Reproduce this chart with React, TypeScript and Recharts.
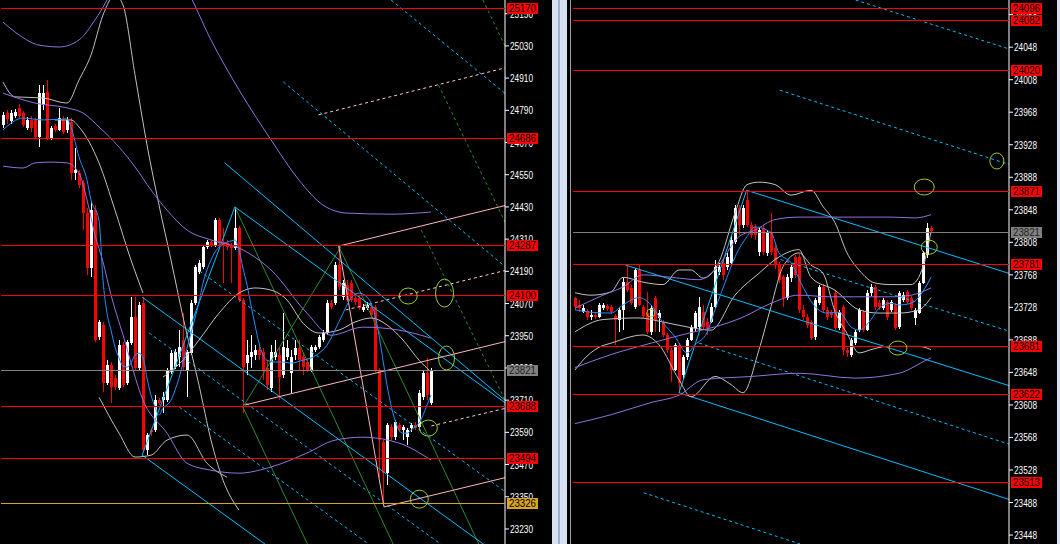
import React from "react";
import { ComposedChart, Bar, Line, XAxis, YAxis, ReferenceLine, ReferenceDot } from "recharts";

type Pt = [number, number];
type Seg = [number, number, number, number];

// ---------- left panel (bars) ----------
const leftOpen = [
  24735, 24780, 24750, 24769, 24799, 24780, 24724, 24754, 24754, 24690,
  24810, 24858, 24687, 24731, 24717, 24754, 24717, 24746, 24556, 24556,
  24519, 24407, 24202, 24418, 23945, 23990, 23774, 23841, 23792, 23755,
  23915, 23774, 23923, 24019, 23829, 24072, 23524, 23598, 23598, 23710,
  23710, 23710, 23815, 23833, 23870, 23934, 23822, 23885, 24072, 24187,
  24206, 24280, 24299, 24288, 24381, 24299, 24295, 24288, 24277, 24351,
  24083, 23848, 23870, 23878, 23897, 23889, 23829, 23755, 23870, 23878,
  23803, 23870, 23811, 23878, 23904, 23870, 23852, 23822, 23897, 23908,
  23934, 23960, 24072, 24072, 24213, 24094, 24139, 24146, 24090, 24090,
  24046, 24053, 24057, 24057, 23822, 23554, 23438, 23610, 23572, 23617,
  23598, 23572, 23606, 23617, 23610, 23721, 23811, 23699,
];
const leftHigh = [
  24784, 24791, 24791, 24795, 24814, 24788, 24765, 24769, 24761, 24884,
  24884, 24903, 24731, 24739, 24799, 24769, 24765, 24761, 24649, 24567,
  24530, 24426, 24448, 24437, 24008, 24001, 23859, 23852, 23803, 23934,
  23926, 23934, 24094, 24094, 24075, 24094, 23587, 23606, 23729, 23718,
  23740, 23829, 23897, 23900, 23971, 24034, 23897, 24083, 24213, 24232,
  24288, 24306, 24306, 24388, 24388, 24351, 24306, 24295, 24429, 24359,
  24090, 23934, 23952, 23915, 23915, 23904, 23859, 23915, 23934, 23904,
  24034, 23934, 23897, 23934, 23934, 23889, 23867, 23915, 23915, 23952,
  23971, 24083, 24083, 24224, 24284, 24157, 24157, 24157, 24101, 24098,
  24068, 24075, 24068, 24064, 23829, 23561, 23624, 23621, 23636, 23624,
  23617, 23606, 23624, 23628, 23747, 23822, 23867, 23829,
];
const leftLow = [
  24724, 24739, 24739, 24761, 24761, 24728, 24717, 24709, 24683, 24653,
  24791, 24679, 24679, 24709, 24713, 24702, 24705, 24530, 24530, 24500,
  24344, 24176, 24169, 23926, 23934, 23740, 23766, 23699, 23747, 23747,
  23759, 23766, 23915, 23822, 23822, 23516, 23505, 23576, 23591, 23692,
  23662, 23703, 23807, 23826, 23833, 23822, 23721, 23878, 24064, 24180,
  24198, 24273, 24280, 24280, 24288, 24146, 24269, 24146, 24269, 24075,
  23662, 23803, 23829, 23859, 23859, 23785, 23747, 23740, 23859, 23710,
  23792, 23859, 23736, 23859, 23822, 23803, 23815, 23815, 23889, 23900,
  23926, 23952, 24049, 24064, 24120, 24083, 24075, 24075, 24064, 24046,
  24038, 24046, 24016, 23815, 23419, 23326, 23393, 23561, 23561, 23591,
  23561, 23543, 23591, 23598, 23598, 23710, 23710, 23692,
];
const leftClose = [
  24773, 24758, 24780, 24784, 24769, 24735, 24754, 24724, 24690, 24855,
  24855, 24687, 24724, 24717, 24761, 24709, 24754, 24556, 24567, 24511,
  24407, 24202, 24418, 23934, 24001, 23774, 23841, 23759, 23759, 23915,
  23766, 23926, 24019, 23829, 24064, 23524, 23580, 23591, 23710, 23699,
  23721, 23822, 23885, 23889, 23908, 23833, 23889, 24072, 24206, 24221,
  24280, 24299, 24288, 24381, 24295, 24288, 24280, 24277, 24351, 24083,
  23833, 23878, 23889, 23897, 23878, 23822, 23766, 23889, 23889, 23796,
  23908, 23904, 23870, 23904, 23859, 23833, 23822, 23908, 23908, 23945,
  23960, 24072, 24057, 24213, 24131, 24146, 24083, 24083, 24075, 24053,
  24057, 24064, 24027, 23822, 23561, 23438, 23617, 23572, 23628, 23598,
  23610, 23598, 23617, 23606, 23736, 23811, 23729, 23822,
];

const leftTicks = [25150, 25030, 24910, 24790, 24670, 24550, 24430, 24310, 24190, 24070, 23950, 23830, 23710, 23590, 23470, 23350, 23230];
const leftRedLevels = [25170, 24686, 24287, 24100, 23688, 23494];
const leftLast = 23821;
const leftGold = 23326;

const leftMa: Pt[] = [
  [0, 24717], [5, 24761], [10, 24754], [16, 24758], [17, 24728], [19, 24616], [21, 24530], [22, 24456],
  [24, 24381], [25, 24157], [26, 24034], [27, 23971], [28, 23908], [29, 23867], [30, 23837], [31, 23833],
  [32, 23848], [33, 23878], [34, 23885], [35, 23870], [36, 23792], [37, 23729], [38, 23684], [39, 23654],
  [40, 23680], [41, 23692], [42, 23710], [43, 23747], [44, 23792], [45, 23848], [46, 23904], [47, 23960],
  [48, 24016], [49, 24075], [50, 24146], [51, 24195], [52, 24232], [53, 24262], [54, 24280], [55, 24292],
  [56, 24299], [57, 24303], [58, 24307], [59, 24269], [60, 24202], [61, 24139], [62, 24064], [63, 23990],
  [64, 23923], [65, 23878], [66, 23859], [68, 23852], [70, 23852], [72, 23848], [75, 23859], [77, 23867],
  [79, 23885], [81, 23915], [83, 23971], [85, 24034], [87, 24090], [89, 24109], [91, 24094], [92, 24072],
  [93, 24027], [94, 23952], [95, 23859], [96, 23766], [97, 23692], [98, 23636], [99, 23598], [100, 23587],
  [101, 23587], [102, 23598], [103, 23610], [104, 23624], [105, 23654], [106, 23692], [107, 23729],
];
const leftPurpleMid: Pt[] = [
  [0, 24854], [8, 24817], [16, 24799], [20, 24780], [24, 24728], [29, 24653], [33, 24579], [37, 24493],
  [41, 24418], [46, 24344], [52, 24307], [59, 24277], [67, 24195], [76, 24034], [82, 23952], [90, 23982],
  [99, 23971], [107, 23941],
];
const leftPurpleLow: Pt[] = [
  [0, 24582], [5, 24575], [8, 24594], [12, 24597], [16, 24594], [19, 24556], [21, 24456], [23, 24325],
  [25, 24225], [27, 24102], [30, 23953], [35, 23710], [41, 23587], [46, 23475], [52, 23449], [59, 23438],
  [67, 23461], [76, 23513], [83, 23561], [90, 23572], [99, 23550], [107, 23487],
];
const leftPurpleHigh: Pt[] = [
  [0, 25119], [4, 25071], [9, 25033], [14, 25026], [19, 25052], [23, 25127], [26, 25201], [32, 25425],
  [46, 25238], [52, 25052], [59, 24866], [67, 24680], [74, 24530], [80, 24437], [86, 24407], [97, 24403],
  [107, 24411],
];
const leftGreyArc: Pt[] = [
  [0, 24895], [3, 24840], [10, 24836], [16, 24817], [19, 24903], [22, 24996], [25, 25145], [28, 25220],
  [30, 25182], [33, 24922], [36, 24661], [39, 24437], [42, 24232], [45, 24020], [49, 23766], [52, 23561],
  [55, 23412], [59, 23300],
];
const leftGreyFall: Pt[] = [
  [13, 24754], [17, 24754], [19, 24728], [24, 24594], [28, 24418], [32, 24232], [35, 24109],
];
const leftGreyMid: Pt[] = [
  [40, 23796], [45, 23859], [49, 23934], [54, 24034], [59, 24109], [63, 24128], [67, 24120], [71, 24083],
  [75, 23997], [79, 23960], [84, 23971], [88, 24001], [92, 24016], [96, 23990], [100, 23934], [104, 23859],
  [107, 23815],
];
const leftGreyLow: Pt[] = [
  [24, 23721], [29, 23587], [33, 23498], [37, 23505], [41, 23561], [46, 23580], [51, 23475], [56, 23423],
];

// drawn objects: [barFrom, priceFrom, barTo, priceTo]
const leftCyanSolid: Seg[] = [
  [55.5, 24594, 125.5, 23703], [58, 24430, 125.5, 23695], [35, 24094, 125.5, 23110],
  [35, 23505, 125.5, 22521], [35, 23505, 58, 24430],
];
const leftCyanDash: Seg[] = [
  [49.25, 24191, 125.5, 23364], [36.75, 23960, 125.5, 22995], [44.25, 23684, 125.5, 22801],
  [70, 24896, 125.5, 24202], [96.75, 25201, 125.5, 24847],
];
const leftGreenSolid: Seg[] = [
  [58, 24430, 97.25, 23174], [60, 23684, 84.25, 24281], [60, 23684, 76, 23174], [83.75, 24284, 118.5, 23174],
];
const leftGreenDash: Seg[] = [
  [108.5, 24884, 125.5, 24359], [104.25, 24344, 125.5, 23695], [119.5, 25201, 125.5, 25015],
];
const leftPinkSolid: Seg[] = [
  [60.5, 23692, 125.5, 23930], [83.75, 24284, 125.5, 24437], [95, 23312, 125.5, 23423], [83.75, 24284, 95, 23312],
];
const leftPinkDash: Seg[] = [
  [85.5, 24046, 125.5, 24195], [106.75, 23614, 125.5, 23681], [78.75, 24773, 125, 24948],
];
const leftRings: [number, number, number, number][] = [
  [101, 24098, 9, 8], [110, 24109, 9, 14], [110.5, 23867, 8, 12], [106, 23606, 9, 8], [103.75, 23341, 9, 9],
];

// ---------- right panel ----------
const rightOpen = [
  23740, 23731, 23722, 23724, 23716, 23719, 23716, 23727, 23730, 23729,
  23717, 23713, 23725, 23759, 23752, 23729, 23774, 23729, 23721, 23698,
  23740, 23715, 23709, 23694, 23676, 23651, 23682, 23645, 23667, 23688,
  23703, 23704, 23722, 23710, 23710, 23729, 23772, 23783, 23778, 23783,
  23808, 23850, 23829, 23860, 23829, 23827, 23796, 23826, 23795, 23821,
  23801, 23780, 23765, 23740, 23764, 23790, 23790, 23725, 23716, 23710,
  23692, 23733, 23753, 23725, 23722, 23746, 23703, 23729, 23676, 23670,
  23684, 23700, 23722, 23700, 23746, 23753, 23733, 23727, 23735, 23725,
  23731, 23704, 23737, 23747, 23740, 23715, 23721, 23758, 23792, 23826,
];
const rightHigh = [
  23741, 23737, 23731, 23726, 23725, 23721, 23733, 23733, 23732, 23731,
  23720, 23727, 23764, 23780, 23756, 23776, 23780, 23731, 23747, 23731,
  23742, 23725, 23713, 23697, 23678, 23684, 23684, 23670, 23690, 23706,
  23724, 23741, 23731, 23715, 23733, 23786, 23783, 23786, 23795, 23817,
  23854, 23854, 23854, 23872, 23833, 23831, 23826, 23829, 23823, 23844,
  23805, 23784, 23768, 23769, 23781, 23792, 23794, 23731, 23720, 23713,
  23740, 23756, 23757, 23729, 23725, 23749, 23725, 23731, 23678, 23690,
  23700, 23727, 23725, 23749, 23757, 23756, 23737, 23740, 23737, 23737,
  23733, 23748, 23747, 23749, 23742, 23727, 23760, 23797, 23832, 23828,
];
const rightLow = [
  23725, 23722, 23721, 23713, 23713, 23714, 23714, 23725, 23724, 23720,
  23682, 23697, 23700, 23747, 23731, 23725, 23729, 23715, 23695, 23694,
  23698, 23698, 23692, 23673, 23636, 23649, 23623, 23641, 23663, 23686,
  23700, 23701, 23700, 23694, 23708, 23726, 23768, 23762, 23774, 23780,
  23806, 23817, 23826, 23826, 23813, 23811, 23792, 23792, 23791, 23792,
  23776, 23758, 23729, 23737, 23759, 23764, 23721, 23713, 23703, 23688,
  23688, 23731, 23721, 23713, 23715, 23700, 23700, 23670, 23667, 23667,
  23682, 23698, 23698, 23698, 23742, 23725, 23725, 23725, 23713, 23722,
  23700, 23701, 23735, 23732, 23725, 23706, 23719, 23756, 23789, 23821,
];
const rightClose = [
  23729, 23727, 23727, 23716, 23719, 23716, 23731, 23731, 23726, 23722,
  23713, 23725, 23759, 23749, 23733, 23774, 23731, 23717, 23698, 23727,
  23713, 23721, 23694, 23676, 23651, 23682, 23635, 23667, 23688, 23704,
  23721, 23729, 23704, 23703, 23729, 23778, 23778, 23768, 23790, 23811,
  23850, 23829, 23850, 23829, 23817, 23817, 23823, 23796, 23820, 23796,
  23780, 23762, 23740, 23765, 23778, 23768, 23725, 23716, 23706, 23690,
  23737, 23753, 23725, 23716, 23719, 23703, 23722, 23676, 23672, 23688,
  23698, 23725, 23700, 23746, 23753, 23729, 23729, 23737, 23716, 23735,
  23703, 23746, 23743, 23735, 23727, 23725, 23758, 23795, 23826, 23822,
];

const rightTicks = [24088, 24048, 24008, 23968, 23928, 23888, 23848, 23808, 23768, 23728, 23688, 23648, 23608, 23568, 23528, 23488, 23448];
const rightRedLevels = [24096, 24082, 24020, 23871, 23781, 23681, 23622, 23513];
const rightLast = 23821;

const rightMa: Pt[] = [
  [0, 23725], [4, 23722], [9, 23721], [12, 23731], [16, 23740], [19, 23731], [22, 23709], [25, 23692],
  [28, 23672], [30, 23682], [33, 23697], [35, 23725], [38, 23765], [40, 23790], [43, 23815], [45, 23827],
  [49, 23820], [51, 23795], [54, 23783], [57, 23753], [60, 23729], [63, 23721], [66, 23722], [69, 23704],
  [71, 23700], [74, 23713], [76, 23727], [79, 23733], [81, 23731], [84, 23733], [86, 23741], [89, 23765],
];
const rightPurpleHigh: Pt[] = [
  [0, 23727], [7, 23743], [12, 23753], [17, 23768], [24, 23765], [31, 23762], [35, 23774], [41, 23815],
  [45, 23823], [50, 23836], [56, 23839], [62, 23839], [70, 23839], [79, 23839], [85, 23838], [89, 23842],
];
const rightPurpleMid: Pt[] = [
  [0, 23654], [9, 23670], [19, 23684], [29, 23697], [35, 23704], [42, 23716], [49, 23733], [56, 23743],
  [64, 23741], [71, 23741], [79, 23741], [84, 23743], [89, 23752],
];
const rightPurpleLow: Pt[] = [
  [0, 23585], [9, 23596], [19, 23611], [26, 23620], [32, 23639], [44, 23643], [56, 23647], [70, 23641],
  [81, 23647], [87, 23661], [89, 23666],
];
const rightGreyHigh: Pt[] = [
  [0, 23746], [4, 23743], [9, 23747], [12, 23765], [17, 23759], [22, 23756], [26, 23774], [29, 23774],
  [32, 23764], [36, 23784], [40, 23844], [43, 23879], [46, 23882], [50, 23879], [54, 23866], [59, 23872],
  [62, 23852], [65, 23832], [68, 23795], [71, 23774], [75, 23758], [79, 23756], [84, 23756], [87, 23778],
  [89, 23821],
];
const rightGreyMid: Pt[] = [
  [0, 23698], [7, 23713], [16, 23715], [22, 23710], [28, 23704], [34, 23700], [40, 23743], [46, 23770],
  [51, 23790], [56, 23799], [59, 23765], [65, 23749], [71, 23725], [76, 23721], [81, 23721], [86, 23725],
  [89, 23740],
];
const rightGreyLow: Pt[] = [
  [0, 23651], [2, 23663], [6, 23679], [9, 23684], [17, 23694], [21, 23682], [26, 23639], [29, 23618],
  [35, 23643], [39, 23633], [42, 23623], [46, 23676], [49, 23729], [52, 23778], [56, 23795], [59, 23780],
  [62, 23770], [65, 23723], [68, 23696], [71, 23672], [74, 23676], [78, 23680], [82, 23680], [86, 23680],
  [89, 23676],
];

const rightCyanSolid: Seg[] = [
  [43, 23872, 108.5, 23769], [13, 23780, 108.5, 23631], [26.25, 23623, 108.5, 23491], [26.25, 23623, 43, 23872],
];
const rightCyanDash: Seg[] = [
  [70, 24106, 108.5, 24045], [51.25, 23995, 108.5, 23903], [50, 23789, 108.5, 23698],
  [31.25, 23684, 108.5, 23559], [17.5, 23500, 56.25, 23437],
];
const rightRings: [number, number, number, number][] = [
  [87, 23876, 10, 8], [105, 23908, 7, 8], [88.25, 23802, 8, 7], [80.5, 23678, 9, 7], [19.25, 23721, 4, 4],
];

// ---------- helpers ----------
function buildRows(n: number, o: number[], h: number[], l: number[], c: number[], lines: Record<string, Pt[]>) {
  const rows: any[] = [];
  for (let i = 0; i < n; i++) {
    const r: any = { i };
    if (i < o.length) {
      r.o = o[i]; r.h = h[i]; r.l = l[i]; r.c = c[i];
      r.range = [l[i], h[i]];
    }
    rows.push(r);
  }
  Object.keys(lines).forEach((k) => {
    lines[k].forEach(([idx, v]) => {
      if (rows[idx]) rows[idx][k] = v;
    });
  });
  return rows;
}

const Candle = (props: any) => {
  const { x, y, width, height, payload } = props;
  if (!payload || payload.o == null) return null;
  const { o, c, h, l } = payload;
  const top = Math.min(y, y + height);
  const span = Math.abs(height);
  const k = h > l ? span / (h - l) : 0;
  const cx = Math.round(x + width / 2 - 0.5);
  const bTop = Math.round(top + (h - Math.max(o, c)) * k);
  const bBot = Math.round(top + (h - Math.min(o, c)) * k);
  const col = c >= o ? "#ffffff" : "#ff0000";
  return (
    <g>
      <rect x={cx} y={Math.round(top)} width={1} height={Math.max(1, Math.round(span))} fill={col} />
      <rect x={cx - 1} y={bTop} width={3} height={Math.max(1, bBot - bTop)} fill={col} />
    </g>
  );
};

const AxisTick = (props: any) => {
  const { x, y, payload } = props;
  return (
    <text x={x} y={y + 4} fill="#ffffff" fontSize={11} fontFamily="Liberation Sans, Arial" textLength={23} lengthAdjust="spacingAndGlyphs">
      {payload.value}
    </text>
  );
};

const PriceTag = (props: any) => {
  const { viewBox, text, fill, color } = props;
  if (!viewBox) return null;
  const tx = viewBox.x + viewBox.width + 2;
  const ty = Math.round(viewBox.y);
  return (
    <g>
      <rect x={tx} y={ty - 5} width={31} height={11} fill={fill} />
      <text x={tx + 2} y={ty + 4} fill={color} fontSize={11} fontFamily="Liberation Sans, Arial" textLength={27} lengthAdjust="spacingAndGlyphs">
        {text}
      </text>
    </g>
  );
};

// 1px level line snapped to the pixel grid
const CrispLine = (p: any) => {
  const y = Math.round(p.y1) + 0.5;
  return <line x1={p.x1} x2={p.x2} y1={y} y2={y} stroke={p.stroke} strokeWidth={1} />;
};

const ring = (rx: number, ry: number) => (p: any) => (
  <ellipse cx={p.cx} cy={p.cy} rx={rx} ry={ry} fill="none" stroke="#9ACD32" strokeWidth={1} />
);

const lineProps = { dot: false, connectNulls: true, isAnimationActive: false, type: "monotone" as const, strokeWidth: 1, activeDot: false };

function segLines(segs: Seg[], stroke: string, dash?: string) {
  return segs.map((s, k) => (
    <ReferenceLine
      key={stroke + (dash || "") + k}
      xAxisId="n"
      ifOverflow="hidden"
      segment={[{ x: s[0], y: s[1] }, { x: s[2], y: s[3] }]}
      stroke={stroke}
      strokeWidth={1}
      strokeDasharray={dash}
    />
  ));
}

function levelLine(v: number, stroke: string, tagFill: string, tagText: string) {
  return (
    <ReferenceLine
      key={"lv" + v}
      y={v}
      stroke={stroke}
      strokeWidth={1}
      shape={CrispLine}
      label={<PriceTag text={String(v)} fill={tagFill} color={tagText} />}
    />
  );
}

const LEFT_N = 126;
const RIGHT_N = 109;

const leftRows = buildRows(LEFT_N, leftOpen, leftHigh, leftLow, leftClose, {
  ma: leftMa, pMid: leftPurpleMid, pLow: leftPurpleLow, pHigh: leftPurpleHigh,
  gArc: leftGreyArc, gFall: leftGreyFall, gMid: leftGreyMid, gLow: leftGreyLow,
});
const rightRows = buildRows(RIGHT_N, rightOpen, rightHigh, rightLow, rightClose, {
  ma: rightMa, pHigh: rightPurpleHigh, pMid: rightPurpleMid, pLow: rightPurpleLow,
  gHigh: rightGreyHigh, gMid: rightGreyMid, gLow: rightGreyLow,
});

// shared axis setup for a panel; overlay charts reuse the scale without drawing ticks
function axes(n: number, domain: [number, number], ticks: number[], showTicks: boolean) {
  return [
    <XAxis key="x" dataKey="i" hide />,
    <XAxis key="xn" xAxisId="n" type="number" domain={[-0.5, n - 0.5]} hide allowDataOverflow />,
    <YAxis
      key="y"
      orientation="right"
      domain={domain}
      allowDataOverflow
      ticks={ticks}
      interval={0}
      width={48}
      tick={showTicks ? <AxisTick /> : false}
      tickSize={4}
      tickMargin={1}
      axisLine={showTicks ? { stroke: "#ffffff" } : false}
      tickLine={showTicks ? { stroke: "#ffffff" } : false}
    />,
  ];
}

const LEFT_DOMAIN: [number, number] = [23174, 25201];
const RIGHT_DOMAIN: [number, number] = [23437, 24106];

export default function App() {
  const over: React.CSSProperties = { position: "absolute", left: 0, top: 0 };
  return (
    <div style={{ position: "absolute", left: 0, top: 0, width: 1060, height: 544, background: "#000", overflow: "hidden" }}>
      {/* left window */}
      <div style={{ position: "absolute", left: 0, top: 0, width: 553, height: 544 }}>
        <div style={over}>
          <ComposedChart width={553} height={544} data={leftRows} margin={{ top: 0, right: 0, bottom: 0, left: 1 }} barSize={3}>
            {axes(LEFT_N, LEFT_DOMAIN, leftTicks, true)}
            {segLines(leftCyanDash, "#00BFFF", "3 3")}
            {segLines(leftGreenDash, "#2E8B2E", "3 3")}
            {segLines(leftGreenSolid, "#2E8B2E")}
            {segLines(leftCyanSolid, "#00BFFF")}
            {segLines(leftPinkSolid, "#FFB6C1")}
            {segLines(leftPinkDash, "#FFC8D0", "3 3")}
            <Line dataKey="gArc" stroke="#C0C0C0" {...lineProps} />
            <Line dataKey="gFall" stroke="#C0C0C0" {...lineProps} />
            <Line dataKey="gMid" stroke="#C0C0C0" {...lineProps} />
            <Line dataKey="gLow" stroke="#C0C0C0" {...lineProps} />
            <Line dataKey="pHigh" stroke="#9370DB" {...lineProps} />
            <Line dataKey="pMid" stroke="#9370DB" {...lineProps} />
            <Line dataKey="pLow" stroke="#9370DB" {...lineProps} />
            <Bar dataKey="range" shape={<Candle />} isAnimationActive={false} />
            <Line dataKey="ma" stroke="#1E90FF" {...lineProps} />
          </ComposedChart>
        </div>
        <div style={over}>
          <ComposedChart width={553} height={544} data={leftRows} margin={{ top: 0, right: 0, bottom: 0, left: 1 }}>
            {axes(LEFT_N, LEFT_DOMAIN, leftTicks, false)}
            {leftRedLevels.map((v) => levelLine(v, "#FF0000", "#FF0000", "#000000"))}
            {levelLine(leftLast, "#808080", "#808080", "#202020")}
            {levelLine(leftGold, "#DAA520", "#DAA520", "#000000")}
            {leftRings.map((r, k) => (
              <ReferenceDot key={k} xAxisId="n" x={r[0]} y={r[1]} r={r[2]} shape={ring(r[2], r[3])} ifOverflow="visible" />
            ))}
          </ComposedChart>
        </div>
      </div>

      {/* window frame between panels */}
      <div style={{ position: "absolute", left: 552, top: 0, width: 15, height: 544, background: "#d6e2f2" }} />
      <div style={{ position: "absolute", left: 558, top: 0, width: 2, height: 544, background: "#9fb2cc" }} />
      <div style={{ position: "absolute", left: 567, top: 0, width: 4, height: 544, background: "#000" }} />
      <div style={{ position: "absolute", left: 570, top: 0, width: 1, height: 544, background: "#a0a0a0" }} />
      <div style={{ position: "absolute", left: 1057, top: 0, width: 3, height: 544, background: "#d6e2f2" }} />

      {/* right window */}
      <div style={{ position: "absolute", left: 571, top: 0, width: 486, height: 544 }}>
        <div style={over}>
          <ComposedChart width={486} height={544} data={rightRows} margin={{ top: 0, right: 0, bottom: 0, left: 2 }} barSize={3}>
            {axes(RIGHT_N, RIGHT_DOMAIN, rightTicks, true)}
            {segLines(rightCyanDash, "#00BFFF", "3 3")}
            {segLines(rightCyanSolid, "#00BFFF")}
            <Line dataKey="gHigh" stroke="#C0C0C0" {...lineProps} />
            <Line dataKey="gMid" stroke="#C0C0C0" {...lineProps} />
            <Line dataKey="gLow" stroke="#C0C0C0" {...lineProps} />
            <Line dataKey="pHigh" stroke="#9370DB" {...lineProps} />
            <Line dataKey="pMid" stroke="#9370DB" {...lineProps} />
            <Line dataKey="pLow" stroke="#9370DB" {...lineProps} />
            <Bar dataKey="range" shape={<Candle />} isAnimationActive={false} />
            <Line dataKey="ma" stroke="#1E90FF" {...lineProps} />
          </ComposedChart>
        </div>
        <div style={over}>
          <ComposedChart width={486} height={544} data={rightRows} margin={{ top: 0, right: 0, bottom: 0, left: 2 }}>
            {axes(RIGHT_N, RIGHT_DOMAIN, rightTicks, false)}
            {rightRedLevels.map((v) => levelLine(v, "#FF0000", "#FF0000", "#000000"))}
            {levelLine(rightLast, "#808080", "#808080", "#202020")}
            {rightRings.map((r, k) => (
              <ReferenceDot key={k} xAxisId="n" x={r[0]} y={r[1]} r={r[2]} shape={ring(r[2], r[3])} ifOverflow="visible" />
            ))}
          </ComposedChart>
        </div>
      </div>
    </div>
  );
}
